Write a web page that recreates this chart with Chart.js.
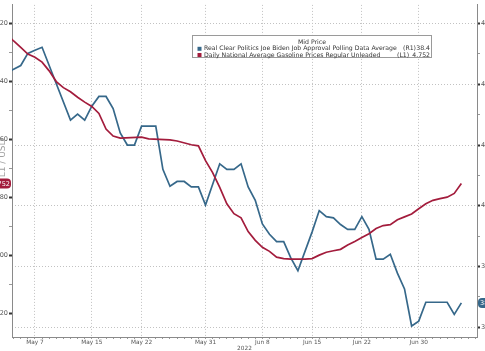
<!DOCTYPE html>
<html>
<head>
<meta charset="utf-8">
<script src="https://cdn.jsdelivr.net/npm/chart.js@4.4.0/dist/chart.umd.min.js"></script>
<style>
  html, body { margin: 0; padding: 0; background: #fff; overflow: hidden; width: 485px; height: 351px; }
  #wrap { position: relative; width: 485px; height: 351px; overflow: hidden; }
  #c { position: absolute; left: -20px; top: 0; }
</style>
</head>
<body>
<div id="wrap"><canvas id="c" width="520" height="356"></canvas></div>
<script>
// Real Clear Politics Biden approval (right axis)
const approvalDates = ['05-03','05-04','05-05','05-06','05-07','05-08','05-12','05-13','05-14','05-15','05-16','05-17','05-18','05-19','05-20','05-21','05-22','05-24','05-25','05-26','05-27','05-28','05-29','05-30','05-31','06-02','06-03','06-04','06-05','06-06','06-07','06-08','06-09','06-10','06-11','06-12','06-13','06-15','06-16','06-17','06-18','06-19','06-20','06-21','06-22','06-23','06-24','06-25','06-26','06-27','06-28','06-29','06-30','07-01','07-04','07-05','07-06'];
const approvalValues = [42.17,42.25,42.31,42.51,42.56,42.61,41.41,41.51,41.41,41.64,41.80,41.80,41.60,41.20,41.00,41.00,41.31,41.31,40.60,40.32,40.40,40.40,40.31,40.31,40.01,40.69,40.60,40.60,40.69,40.31,40.09,39.70,39.53,39.41,39.41,39.14,38.93,39.57,39.92,39.82,39.80,39.69,39.61,39.61,39.82,39.61,39.12,39.12,39.20,38.89,38.63,38.02,38.10,38.41,38.41,38.21,38.40];

// Daily national average gasoline price (left axis, inverted)
const gasDates = ['05-03','05-04','05-05','05-06','05-07','05-08','05-09','05-10','05-11','05-12','05-13','05-14','05-15','05-16','05-17','05-18','05-19','05-22','05-23','05-26','05-27','05-29','05-30','05-31','06-01','06-02','06-03','06-04','06-05','06-06','06-07','06-08','06-09','06-10','06-11','06-12','06-14','06-15','06-16','06-17','06-18','06-19','06-20','06-21','06-22','06-23','06-24','06-25','06-26','06-27','06-28','06-29','06-30','07-01','07-02','07-03','07-04','07-05','07-06'];
const gasValues = [4.236,4.260,4.282,4.305,4.316,4.333,4.363,4.400,4.421,4.435,4.454,4.471,4.486,4.510,4.564,4.588,4.595,4.592,4.598,4.601,4.605,4.618,4.622,4.673,4.714,4.765,4.822,4.856,4.870,4.918,4.948,4.972,4.986,5.006,5.011,5.013,5.013,5.011,4.999,4.989,4.984,4.979,4.964,4.952,4.938,4.925,4.907,4.897,4.894,4.877,4.867,4.857,4.839,4.822,4.810,4.804,4.799,4.786,4.752];

const dateTickDates = ['05-07','05-15','05-22','05-31','06-08','06-15','06-22','06-30'];
const dateTickLabels = ['May 7','May 15','May 22','May 31','Jun 8','Jun 15','Jun 22','Jun 30'];
const gasTicks = [4.2, 4.4, 4.6, 4.8, 5.0, 5.2];
const approvalTicks = [38, 39, 40, 41, 42, 43];

const legendTitle = 'Mid Price';
const approvalName = 'Real Clear Politics Joe Biden Job Approval Polling Data Average';
const gasName = 'Daily National Average Gasoline Prices Regular Unleaded';
const approvalLast = '38.4';
const gasLast = '4.752';

const BLUE = '#36688a';
const RED = '#a31c3c';
const GRID = '#c2c2c2';
const AXIS = '#8a8a8a';
const TXT = '#555';
const SHIFT = 20; // canvas is pushed left so the axis labels get cut like the original

function dayOf(s) {
  const [m, d] = s.split('-').map(Number);
  return (Date.UTC(2022, m - 1, d) - Date.UTC(2022, 4, 7)) / 86400000;
}
const tickDays = dateTickDates.map(dayOf);

const overlay = {
  id: 'overlay',
  afterDraw(chart) {
    const ctx = chart.ctx;
    const yL = chart.scales.yL, yR = chart.scales.yR;
    const area = chart.chartArea;

    // rotated axis title, mostly cut off
    ctx.save();
    ctx.translate(SHIFT + 3, 158);
    ctx.rotate(-Math.PI / 2);
    ctx.font = '9px "DejaVu Sans"';
    ctx.fillStyle = '#a0a0a0';
    ctx.textAlign = 'center';
    ctx.textBaseline = 'middle';
    ctx.fillText('L1 / USD', 0, 0);
    ctx.restore();

    // last value tags
    const gy = yL.getPixelForValue(gasValues[gasValues.length - 1]);
    ctx.save();
    ctx.fillStyle = RED;
    ctx.beginPath();
    ctx.roundRect(area.left - 28, gy - 5, 27, 10, 4);
    ctx.fill();
    ctx.fillStyle = '#fff';
    ctx.font = '6.5px "DejaVu Sans"';
    ctx.textAlign = 'right';
    ctx.textBaseline = 'middle';
    ctx.fillText(gasLast, area.left - 2, gy + 0.5);

    const by = yR.getPixelForValue(approvalValues[approvalValues.length - 1]);
    ctx.fillStyle = BLUE;
    ctx.beginPath();
    ctx.roundRect(area.right + 1, by - 5, 26, 10, 4);
    ctx.fill();
    ctx.fillStyle = '#fff';
    ctx.textAlign = 'left';
    ctx.fillText(approvalLast, area.right + 3, by + 0.5);
    ctx.restore();

    // legend box
    const bx = SHIFT + 192, bTop = 35, bw = 240, bh = 23;
    ctx.save();
    ctx.fillStyle = '#fff';
    ctx.fillRect(bx, bTop, bw, bh);
    ctx.strokeStyle = '#9a9a9a';
    ctx.lineWidth = 1;
    ctx.strokeRect(bx + 0.5, bTop + 0.5, bw - 1, bh - 1);
    ctx.font = '10px "DejaVu Sans"';
    const fs = 10 * 193 / ctx.measureText(approvalName).width;
    ctx.font = fs.toFixed(2) + 'px "DejaVu Sans"';
    ctx.fillStyle = '#333';
    ctx.textBaseline = 'middle';
    ctx.textAlign = 'center';
    ctx.fillText(legendTitle, SHIFT + 312, 42.5);
    const rows = [
      { color: BLUE, name: approvalName, tag: '(R1)', tagX: 403, val: approvalLast, y: 48.8 },
      { color: RED, name: gasName, tag: '(L1)', tagX: 397, val: gasLast, y: 55 }
    ];
    rows.forEach(r => {
      ctx.fillStyle = r.color;
      ctx.fillRect(SHIFT + 197.5, r.y - 2, 4, 4);
      ctx.fillStyle = '#333';
      ctx.textAlign = 'left';
      ctx.fillText(r.name, SHIFT + 204, r.y);
      ctx.fillText(r.tag, SHIFT + r.tagX, r.y);
      ctx.textAlign = 'right';
      ctx.fillText(r.val, SHIFT + 430, r.y);
    });
    ctx.restore();
  }
};

Chart.defaults.font.family = '"DejaVu Sans"';
Chart.defaults.color = TXT;

new Chart(document.getElementById('c'), {
  type: 'line',
  data: {
    datasets: [
      {
        label: gasName,
        data: gasDates.map((d, i) => ({ x: dayOf(d), y: gasValues[i] })),
        yAxisID: 'yL',
        borderColor: RED,
        borderWidth: 1.7,
        pointRadius: 0,
        tension: 0
      },
      {
        label: approvalName,
        data: approvalDates.map((d, i) => ({ x: dayOf(d), y: approvalValues[i] })),
        yAxisID: 'yR',
        borderColor: BLUE,
        borderWidth: 1.7,
        pointRadius: 0,
        tension: 0
      }
    ]
  },
  options: {
    responsive: false,
    animation: false,
    devicePixelRatio: 1,
    layout: { padding: 0 },
    plugins: { legend: { display: false }, tooltip: { enabled: false } },
    scales: {
      x: {
        type: 'linear',
        min: -3.23,
        max: 62.2,
        afterBuildTicks: s => {
          const t = [];
          for (let d = -3; d <= 62; d++) t.push({ value: d });
          s.ticks = t;
        },
        afterFit: s => { s.height = 19; },
        ticks: {
          autoSkip: false,
          maxRotation: 0,
          padding: 0,
          font: { size: 5.8 },
          callback: v => {
            const i = tickDays.indexOf(v);
            return i >= 0 ? dateTickLabels[i] : '';
          }
        },
        grid: {
          color: c => (c.tick && tickDays.includes(c.tick.value)) ? GRID : 'rgba(0,0,0,0)',
          tickColor: '#999',
          tickLength: 2,
          lineWidth: 1
        },
        border: { color: AXIS, width: 1, dash: [1, 2] },
        title: { display: true, text: '2022', font: { size: 5.8 }, padding: { top: 0, bottom: 4.5 }, color: TXT }
      },
      yL: {
        position: 'left',
        reverse: true,
        min: 4.1354,
        max: 5.2816,
        afterBuildTicks: s => {
          const t = [];
          for (let k = 41; k <= 52; k++) t.push({ value: k / 10 });
          s.ticks = t;
        },
        afterFit: s => { s.width = 32; },
        ticks: {
          padding: 1,
          font: { size: 6.5 },
          callback: v => gasTicks.some(g => Math.abs(g - v) < 1e-6) ? v.toFixed(2) : ''
        },
        grid: {
          drawOnChartArea: false,
          tickLength: 3,
          tickColor: c => (c.tick && gasTicks.some(g => Math.abs(g - c.tick.value) < 1e-6)) ? '#333' : '#999',
          tickWidth: c => (c.tick && gasTicks.some(g => Math.abs(g - c.tick.value) < 1e-6)) ? 2 : 1
        },
        border: { color: AXIS, width: 1 }
      },
      yR: {
        position: 'right',
        min: 37.838,
        max: 43.308,
        afterBuildTicks: s => {
          const t = [];
          for (let k = 76; k <= 86; k++) t.push({ value: k / 2 });
          s.ticks = t;
        },
        afterFit: s => { s.width = 23; },
        ticks: {
          padding: 1,
          font: { size: 6.5 },
          callback: v => approvalTicks.includes(v) ? String(v) : ''
        },
        grid: {
          color: c => (c.tick && approvalTicks.includes(c.tick.value)) ? GRID : 'rgba(0,0,0,0)',
          tickLength: 3,
          tickColor: c => (c.tick && approvalTicks.includes(c.tick.value)) ? '#333' : '#999',
          tickWidth: c => (c.tick && approvalTicks.includes(c.tick.value)) ? 2 : 1
        },
        border: { color: AXIS, width: 1, dash: [1, 2] }
      }
    }
  },
  plugins: [overlay]
});
</script>
</body>
</html>
